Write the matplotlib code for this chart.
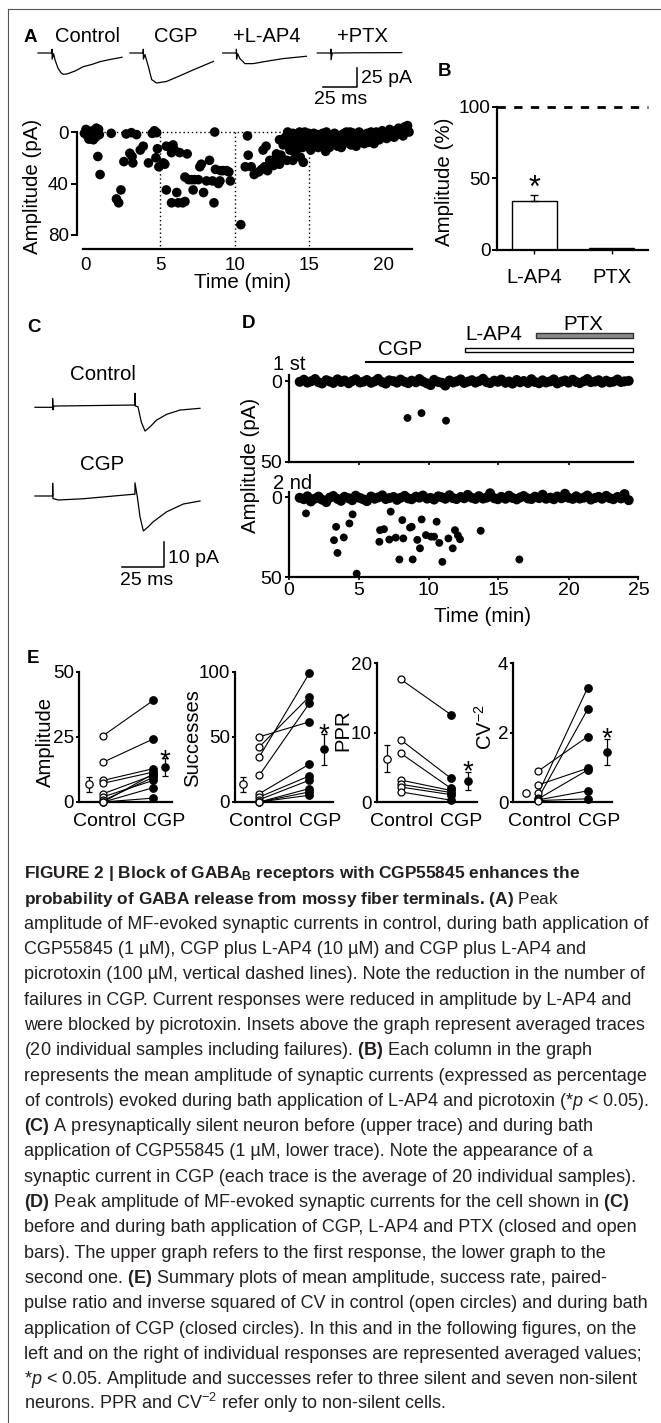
import matplotlib
matplotlib.use("Agg")
import matplotlib.pyplot as plt
from matplotlib.lines import Line2D
from matplotlib.patches import Rectangle

W, H = 661, 1423
INK = "black"
CAPTION_INK = "#231f20"
BOLD_SIZE = 12.4

plt.rcParams["font.family"] = ["Liberation Sans", "DejaVu Sans"]
plt.rcParams["mathtext.fontset"] = "custom"
plt.rcParams["mathtext.rm"] = "Liberation Sans"
plt.rcParams["mathtext.it"] = "Liberation Sans:italic"
plt.rcParams["mathtext.bf"] = "Liberation Sans:bold"

# ---------------- A: averaged traces (ms from trace start, pA from baseline)
a_trace_names = ["Control", "CGP", "+L-AP4", "+PTX"]
a_ctrl_ms = [0, 10.3, 10.3, 10.4, 11.5, 12.5, 14.7, 16.9, 18.4, 21.3, 27.2, 33.3, 39.7, 45.6, 53.0, 61.8]
a_ctrl_pa = [0, 0, 5, -8, -1, -9, -20, -26, -28, -27.6, -23.7, -18, -15, -11.4, -8.5, -5.6]
a_cgp_ms = [0, 9.8, 9.8, 9.9, 11.0, 13.5, 16.0, 19.6, 27.0, 36.8, 46.6, 61.3]
a_cgp_pa = [0, 0, 5, -8, -2, -17.5, -35, -39.5, -37.4, -29.9, -22.2, -11.1]
a_lap4_ms = [0, 10.1, 10.1, 10.2, 11.0, 12.7, 16.4, 22.3, 32.1, 44.3, 61.5]
a_lap4_pa = [0, 0, 5, -8, -1, -7.4, -14, -14, -10.9, -7.4, -4.3]
a_ptx_ms = [0, 10, 10, 10.1, 11, 30, 62]
a_ptx_pa = [0, 0, 5, -9, 0, 0.3, 0.5]
a_scale_ms, a_scale_pa = 25, 25

# ---------------- A: peak amplitude vs time (min, pA)
a_control_pts = [(-0.1, 1), (0.0, -2), (0.1, 3), (0.2, 5.5), (0.25, 0), (0.35, 5), (0.45, -1),
                 (0.5, 6), (0.55, 2), (0.65, 4), (0.7, -3), (0.75, 0), (0.85, -2), (0.9, 2),
                 (0.8, 19), (0.95, 33), (1.7, 1), (2.05, 52), (2.2, 55), (2.35, 45), (2.55, 23),
                 (2.7, 1.5), (2.95, 16.5), (3.05, 0.5), (3.1, 19), (3.15, 24), (3.4, 2),
                 (3.65, 14), (3.85, 11), (4.2, 24), (4.45, 1), (4.6, -1), (4.7, 20),
                 (4.75, 0.5), (4.8, 13), (4.9, 27)]
a_cgp_pts = [(5.2, 24), (5.3, 25), (5.4, 11), (5.4, 45), (5.75, 16), (5.75, 55), (5.85, 10),
             (5.95, 14), (6.1, 47), (6.2, 55), (6.3, 16), (6.5, 55), (6.65, 35), (6.65, 54),
             (6.8, 17), (6.9, 37), (7.1, 37), (7.2, 45), (7.3, 37), (7.55, 37), (7.65, 27),
             (7.75, 25), (7.9, 47), (8.1, 38), (8.3, 22), (8.5, 38), (8.6, 55), (8.65, 0),
             (8.7, 29), (8.9, 40), (9.0, 38), (9.05, 30), (9.2, 30), (9.45, 30), (9.6, 31),
             (9.7, 38)]
a_lap4_pts = [(10.4, 72), (10.7, 27), (10.85, 3), (10.9, 18), (11.1, 27), (11.3, 33), (11.6, 31),
              (11.8, 29), (11.9, 14), (12.0, 27), (12.1, 11), (12.2, 30), (12.35, 22), (12.6, 26),
              (12.7, 21), (12.8, 17), (13.0, 25), (13.0, 6), (13.1, 18), (13.25, 10), (13.4, 4),
              (13.5, 22), (13.5, 9), (13.55, 0), (13.6, 2), (13.7, 14), (13.7, 12), (13.75, 3),
              (13.8, 6), (13.9, 22), (13.9, 1), (13.95, 15), (14.0, 10), (14.1, 17), (14.1, 4),
              (14.15, 8), (14.2, 13), (14.3, 7), (14.35, 0), (14.4, 19.6), (14.4, 2), (14.5, 9),
              (14.55, 12), (14.6, 23.5), (14.6, 5), (14.7, 0), (14.75, 6), (14.8, 11),
              (14.9, 3), (14.95, 1)]
a_ptx_pts = [(15.0, 8), (15.1, 14), (15.15, 7), (15.2, 4), (15.3, 1), (15.35, 11), (15.4, 9),
             (15.5, 6), (15.55, 2), (15.6, 12), (15.7, 3), (15.75, 10), (15.8, 8), (15.9, 1),
             (15.95, 6), (16.0, 5), (16.1, 15), (16.15, 0), (16.2, 7), (16.3, 2), (16.35, 12),
             (16.4, 10), (16.5, 4), (16.55, 3), (16.6, 8), (16.7, 1), (16.75, 9), (16.8, 6),
             (16.9, 11), (16.95, 4), (17.0, 3), (17.1, 7), (17.15, 12), (17.2, 2), (17.3, 9),
             (17.35, 1), (17.4, 5), (17.5, 0), (17.55, 8), (17.6, 7), (17.7, 3), (17.75, 0),
             (17.8, 10), (17.9, 5), (17.95, 3), (18.0, 1), (18.1, 6), (18.15, 11), (18.2, 8),
             (18.3, 3), (18.35, 0), (18.4, 7), (18.5, 2), (18.55, 6), (18.6, 5), (18.7, 9),
             (18.75, 2), (18.8, 4), (18.9, 1), (18.95, 8), (19.0, 6), (19.1, 3), (19.15, 0),
             (19.2, 7), (19.3, 2), (19.35, 9), (19.4, 5), (19.5, 0), (19.6, 4), (19.7, 6),
             (19.8, 2), (19.9, -1), (20.0, 4), (20.1, 1), (20.2, 5), (20.3, 2), (20.4, -2),
             (20.5, 3), (20.6, 0), (20.7, 4), (20.8, -1), (20.9, 2), (21.0, -3), (21.1, 1),
             (21.2, -2), (21.3, 3), (21.4, -4), (21.5, -1), (21.6, -5), (21.7, 0)]
a_drug_lines = [5, 10, 15]

# ---------------- B: normalised amplitude (% of control)
b_labels = ["L-AP4", "PTX"]
b_values = [34.4, 1.2]
b_err = [4.0, 0.0]
b_star = 49

# ---------------- C: traces of a silent neuron (ms, pA)
c_names = ["Control", "CGP"]
c_ctrl_ms = [0, 10.5, 10.5, 10.7, 11.3, 58.5, 59.5, 59.5, 59.8, 61.3, 63.3, 65.5, 68.5, 72.4, 78.4, 86.3, 98.2]
c_ctrl_pa = [0, 0, 3.5, -1, 0.5, 0.9, 0.9, 5.6, 0.5, 0.2, -6, -9.5, -7.8, -5.1, -2.8, -1.1, -0.4]
c_cgp_ms = [0, 10.5, 10.5, 10.7, 13.9, 28.8, 58.5, 59.5, 59.5, 60.9, 62.5, 64.5, 67.4, 70.4, 78.4, 88.3, 98.2]
c_cgp_pa = [0, 0, 5.1, -1.0, -1.6, -1.1, 0.7, 0.7, 5.3, -0.3, -8.3, -14, -12.3, -10.3, -6.3, -3.2, -2.0]
c_scale_ms, c_scale_pa = 25, 10

# ---------------- D: first and second response amplitude vs time (min, pA)
d_drugs = ["CGP", "L-AP4", "PTX"]
d_drug_start = [5.55, 12.6, 17.7]
d_drug_end = [24.6, 24.6, 24.6]
d_sweep_t = [0.8, 1.1, 1.35, 1.6, 1.9, 2.15, 2.4, 2.7, 2.95, 3.2,
             3.5, 3.75, 4.0, 4.3, 4.55, 4.8, 5.1, 5.35, 5.6, 5.9,
             6.15, 6.4, 6.7, 6.95, 7.2, 7.5, 7.75, 8.0, 8.3, 8.55,
             8.8, 9.1, 9.35, 9.6, 9.9, 10.15, 10.4, 10.7, 10.95, 11.2,
             11.5, 11.75, 12.0, 12.3, 12.55, 12.8, 13.1, 13.35, 13.6, 13.9,
             14.15, 14.4, 14.7, 14.95, 15.2, 15.5, 15.75, 16.0, 16.3, 16.55,
             16.8, 17.1, 17.35, 17.6, 17.9, 18.15, 18.4, 18.7, 18.95, 19.2,
             19.5, 19.75, 20.0, 20.3, 20.55, 20.8, 21.1, 21.35, 21.6, 21.9,
             22.15, 22.4, 22.7, 22.95, 23.2, 23.5, 23.75, 24.0, 24.3]
d1_fail_amp = [0.5, -0.8, 1.0, 0.2, -1.2, 0.8, 1.5, -0.5, 0.3, 1.2,
               -1.0, 0.6, -0.3, 1.4, 0.0, -1.1, 0.9, 0.4, -0.6, 1.1,
               0.2, -1.3, 0.7, 1.6, -0.4, 0.1, 1.0, -0.9, 0.5, 1.3,
               -0.2, 0.8, -1.2, 0.3, 1.5, 2.5, -0.7, 0.6, 1.1, 2.8,
               -0.3, 0.9, 0.2, -1.0, 1.2, 0.4, -0.5, 1.0, 0.1, -1.4,
               0.7, 1.3, -0.2, 0.5, -0.9, 1.1, 0.3, 1.6, -0.6, 0.8,
               0.0, 1.2, -1.1, 0.6, 1.4, -0.4, 0.9, 0.2, -1.0, 1.5,
               0.4, -0.3, 1.0, -0.8, 0.6, 1.3, 0.1, -1.2, 0.7, 0.3,
               -0.5, 1.1, -0.2, 0.8, 0.4, -0.9, 0.6, 0.2, -0.1]
d1_resp_t = [8.5, 9.5, 11.25]
d1_resp_amp = [22.8, 19.8, 24.5]
d2_fail_amp = [0.3, 1.2, -0.6, 2.6, 0.8, -0.4, 1.5, 3.0, 0.2, -0.8,
               1.0, 2.2, -0.3, 0.6, 1.8, -1.0, 0.4, 1.3, 2.4, -0.5,
               0.9, 0.1, -1.2, 1.1, 0.5, -0.2, 1.6, 0.3, -0.9, 0.7,
               1.2, -0.4, 0.2, -1.1, 0.8, 0.4, 1.4, -0.6, 0.0, 0.9,
               -1.3, 0.5, 1.1, -0.2, 0.6, -1.5, 0.3, 1.0, -0.7, 0.8,
               0.2, -2.5, 0.6, 1.2, -0.3, 0.9, -1.0, 0.4, 1.3, 0.1,
               -0.8, 0.7, 1.1, -0.4, 0.5, -1.6, 0.9, 0.2, 1.2, -0.5,
               0.6, -2.2, 0.3, 1.0, -0.6, 0.8, 0.2, -1.1, 1.4, 0.4,
               -0.3, 0.9, -0.9, 0.5, 1.2, -0.2, 0.7, -2.0, 1.8]
d2_resp_t = [1.25, 3.25, 3.4, 3.5, 3.95, 4.35, 4.58, 4.87, 6.49, 6.54,
             6.82, 7.2, 7.3, 7.66, 7.92, 8.13, 8.2, 8.68, 8.8, 8.87,
             9.2, 9.39, 9.51, 9.82, 10.18, 10.4, 10.58, 10.77, 10.99, 11.42,
             11.73, 11.89, 12.1, 12.25, 13.73, 16.49]
d2_resp_amp = [10.1, 26.9, 18.5, 34.9, 25.2, 16.4, 10.7, 47.9, 27.9, 20.6,
               20.0, 26.5, 9.0, 25.3, 39.0, 14.3, 25.8, 19.0, 18.5, 39.0,
               26.7, 32.0, 13.9, 23.7, 24.7, 24.7, 15.3, 28.6, 40.5, 25.8,
               32.0, 20.6, 23.9, 26.3, 21.0, 39.0]

# ---------------- E: summary plots (control, CGP)
e_groups = ["Control", "CGP"]
e_amp_ctrl = [25.5, 15.3, 8.3, 7.2, 3.2, 2.0, 0.6, 0.0, 0.0, 0.0]
e_amp_cgp = [39.0, 24.2, 12.8, 11.5, 10.3, 8.3, 9.5, 5.5, 1.5, 10.8]
e_amp_mean, e_amp_sem = [6.8, 13.5], [2.9, 3.5]
e_succ_ctrl = [50.0, 42.3, 34.6, 20.5, 6.4, 3.8, 1.8, 0.0, 0.0, 0.0]
e_succ_cgp = [61.5, 80.8, 98.8, 75.7, 29.0, 20.0, 16.7, 10.3, 7.7, 5.2]
e_succ_mean, e_succ_sem = [13.6, 40.5], [5.7, 11.8]
e_ppr_ctrl = [17.7, 9.0, 7.05, 3.2, 2.6, 2.2, 1.5]
e_ppr_cgp = [12.6, 3.45, 2.0, 1.7, 1.4, 1.1, 0.3]
e_ppr_mean, e_ppr_sem = [6.3, 3.06], [2.0, 1.35]
e_cv_ctrl = [0.9, 0.5, 0.26, 0.12, 0.1, 0.07, 0.05]
e_cv_cgp = [1.89, 0.98, 3.3, 2.68, 0.93, 0.33, 0.1]
e_cv_mean, e_cv_sem = [0.26, 1.44], [0.0, 0.38]

caption_lines = [
    ("FIGURE 2 | Block of GABA$_\\mathbf{B}$ receptors with CGP55845 enhances the", "bold"),
    ("probability of GABA release from mossy fiber terminals. (A) $\\mathrm{Peak}$", "bold"),
    ("amplitude of MF-evoked synaptic currents in control, during bath application of", "normal"),
    ("CGP55845 (1 \u00b5M), CGP plus L-AP4 (10 \u00b5M) and CGP plus L-AP4 and", "normal"),
    ("picrotoxin (100 \u00b5M, vertical dashed lines). Note the reduction in the number of", "normal"),
    ("failures in CGP. Current responses were reduced in amplitude by L-AP4 and", "normal"),
    ("were blocked by picrotoxin. Insets above the graph represent averaged traces", "normal"),
    ("(20 individual samples including failures). $\\mathbf{(B)}$ Each column in the graph", "normal"),
    ("represents the mean amplitude of synaptic currents (expressed as percentage", "normal"),
    ("of controls) evoked during bath application of L-AP4 and picrotoxin (*$\\mathit{p}$ < 0.05).", "normal"),
    ("$\\mathbf{(C)}$ A presynaptically silent neuron before (upper trace) and during bath", "normal"),
    ("application of CGP55845 (1 \u00b5M, lower trace). Note the appearance of a", "normal"),
    ("synaptic current in CGP (each trace is the average of 20 individual samples).", "normal"),
    ("$\\mathbf{(D)}$ Peak amplitude of MF-evoked synaptic currents for the cell shown in $\\mathbf{(C)}$", "normal"),
    ("before and during bath application of CGP, L-AP4 and PTX (closed and open", "normal"),
    ("bars). The upper graph refers to the first response, the lower graph to the", "normal"),
    ("second one. $\\mathbf{(E)}$ Summary plots of mean amplitude, success rate, paired-", "normal"),
    ("pulse ratio and inverse squared of CV in control (open circles) and during bath", "normal"),
    ("application of CGP (closed circles). In this and in the following figures, on the", "normal"),
    ("left and on the right of individual responses are represented averaged values;", "normal"),
    ("*$\\mathit{p}$ < 0.05. Amplitude and successes refer to three silent and seven non-silent", "normal"),
    ("neurons. PPR and CV$^{-2}$ refer only to non-silent cells.", "normal"),
]


def axes_px(fig, x0, y0, x1, y1):
    """Add axes from a pixel box measured from the top-left corner."""
    return fig.add_axes([x0 / W, 1 - y1 / H, (x1 - x0) / W, (y1 - y0) / H])


def text_px(fig, x, y, s, **kw):
    kw.setdefault("ha", "center")
    kw.setdefault("va", "baseline")
    kw.setdefault("color", INK)
    return fig.text(x / W, 1 - y / H, s, **kw)


def open_axes(ax, lw=1.6):
    for side in ("top", "right"):
        ax.spines[side].set_visible(False)
    for side in ("left", "bottom"):
        ax.spines[side].set_linewidth(lw)
    ax.set_facecolor("none")


def star(ax, x, y, size=20):
    ax.annotate("*", (x, y), xytext=(0, -0.57 * size), textcoords="offset points",
                ha="center", va="baseline", fontsize=size, color=INK, annotation_clip=False)


def trace_axes(fig, box, origin, ms_px, pa_px):
    """Axes in ms / pA whose (0, 0) sits on the pixel point `origin`."""
    ax = axes_px(fig, *box)
    x0, y0, x1, y1 = box
    ax.set_xlim((x0 - origin[0]) / ms_px, (x1 - origin[0]) / ms_px)
    ax.set_ylim((origin[1] - y1) / pa_px, (origin[1] - y0) / pa_px)
    ax.axis("off")
    return ax


def panel_a(fig):
    text_px(fig, 24, 42, "A", fontsize=13.5, fontweight="bold", ha="left")
    ax = trace_axes(fig, (30, 40, 410, 100), (38, 53), 1.36, 0.76)
    traces = [(a_ctrl_ms, a_ctrl_pa), (a_cgp_ms, a_cgp_pa),
              (a_lap4_ms, a_lap4_pa), (a_ptx_ms, a_ptx_pa)]
    starts = [0, 67.6, 135.8, 205.4]
    for (ms, pa), t0 in zip(traces, starts):
        ax.plot([t0 + m for m in ms], pa, color=INK, lw=0.9, clip_on=False)
    for name, cx in zip(a_trace_names, [87, 176, 267, 362]):
        text_px(fig, cx, 42, name, fontsize=14.5)
    sx, sy = 209.6, -44.7
    ax.plot([sx, sx + a_scale_ms, sx + a_scale_ms], [sy, sy, sy + a_scale_pa],
            color=INK, lw=1.1, clip_on=False)
    text_px(fig, 361, 83, f"{a_scale_pa} pA", fontsize=14, ha="left")
    text_px(fig, 341, 104, f"{a_scale_ms} ms", fontsize=14)

    ax = axes_px(fig, 77, 122, 412, 249)
    open_axes(ax)
    ax.set_xlim(-0.6, 21.9)
    ax.set_ylim(90.9, -7.8)
    ax.spines["left"].set_bounds(0, 80)
    ax.spines["bottom"].set_bounds(-0.2, 21.9)
    ax.plot([-0.2, 21.8], [0, 0], color=INK, lw=1, ls=(0, (1, 2)), zorder=1)
    for t in a_drug_lines:
        ax.plot([t, t], [0, 90.9], color=INK, lw=1, ls=(0, (1, 2)), zorder=1, clip_on=False)
    pts = a_control_pts + a_cgp_pts + a_lap4_pts + a_ptx_pts
    ax.scatter([p[0] for p in pts], [p[1] for p in pts], s=48, color=INK,
               edgecolors="none", zorder=3, clip_on=False)
    ax.set_yticks([0, 40, 80])
    ax.set_xticks([0, 5, 10, 15, 20])
    ax.tick_params(axis="y", length=4, width=1.4, pad=2, labelsize=13.5)
    ax.tick_params(axis="x", length=0, pad=6, labelsize=13.5)
    text_px(fig, 33, 186, "Amplitude (pA)", fontsize=14.8, rotation=90, va="center")
    text_px(fig, 242, 288, "Time (min)", fontsize=14.8)


def panel_b(fig):
    text_px(fig, 438, 76, "B", fontsize=13.5, fontweight="bold", ha="left")
    ax = axes_px(fig, 497, 95, 648, 250)
    open_axes(ax)
    ax.set_xlim(-0.48, 1.47)
    ax.set_ylim(0, 108.2)
    ax.spines["left"].set_bounds(0, 100)
    xs = range(len(b_values))
    ax.bar(xs, b_values, width=0.58, color="white", edgecolor=INK, linewidth=1.0, zorder=2)
    ax.errorbar([0], [b_values[0]], yerr=[[0], [b_err[0]]], fmt="none",
                ecolor=INK, elinewidth=1.0, capsize=3, capthick=1.0, zorder=3)
    ax.plot([-0.48, 1.47], [100, 100], color=INK, lw=2, ls=(0, (3, 3)), clip_on=False)
    star(ax, 0, b_star, size=22)
    ax.set_yticks([0, 50, 100])
    ax.set_xticks(list(xs), b_labels)
    ax.tick_params(axis="y", length=3.5, width=1.4, pad=1, labelsize=13.7)
    ax.tick_params(axis="x", length=3, width=1.0, pad=10, labelsize=14.5)
    text_px(fig, 445, 182, "Amplitude (%)", fontsize=14.8, rotation=90, va="center")


def panel_c(fig):
    text_px(fig, 27, 332, "C", fontsize=13.5, fontweight="bold", ha="left")
    ax = trace_axes(fig, (25, 380, 215, 590), (35, 407.3), 1.68, 2.5)
    offset = -(496 - 407.3) / 2.5
    ax.plot(c_ctrl_ms, c_ctrl_pa, color=INK, lw=0.9, clip_on=False)
    ax.plot(c_cgp_ms, [p + offset for p in c_cgp_pa], color=INK, lw=0.9, clip_on=False)
    text_px(fig, 103, 380, c_names[0], fontsize=14.8)
    text_px(fig, 102, 470, c_names[1], fontsize=14.8)
    sx, sy = 51.8, -63.9
    ax.plot([sx, sx + c_scale_ms, sx + c_scale_ms], [sy, sy, sy + c_scale_pa],
            color=INK, lw=1.1, clip_on=False)
    text_px(fig, 168, 563, f"{c_scale_pa} pA", fontsize=14, ha="left")
    text_px(fig, 147, 585, f"{c_scale_ms} ms", fontsize=14)


def panel_d(fig):
    text_px(fig, 242, 328, "D", fontsize=13.5, fontweight="bold", ha="left")
    bars = axes_px(fig, 288.5, 315, 638.5, 370)
    bars.set_xlim(0, 25)
    bars.set_ylim(370, 315)
    bars.axis("off")
    bars.plot([d_drug_start[0], d_drug_end[0]], [362.3, 362.3], color=INK, lw=1.5)
    bars.add_patch(Rectangle((d_drug_start[1], 347.7), d_drug_end[1] - d_drug_start[1], 4.6,
                             facecolor="white", edgecolor=INK, lw=1.0))
    bars.add_patch(Rectangle((d_drug_start[2], 333), d_drug_end[2] - d_drug_start[2], 5,
                             facecolor="#8c8c8c", edgecolor="#333333", lw=1.0))
    for name, cx, by in zip(d_drugs, [400, 494, 583], [355, 340, 330]):
        text_px(fig, cx, by, name, fontsize=14.8)

    rows = [((288.5, 372, 638.5, 462), (50, -5.56), d1_fail_amp, d1_resp_t, d1_resp_amp, 24.6, "1 st", 370),
            ((288.5, 488, 638.5, 577), (50, -5.83), d2_fail_amp, d2_resp_t, d2_resp_amp, 25, "2 nd", 489)]
    for box, ylim, fail, rt, ra, xend, tag, tag_y in rows:
        ax = axes_px(fig, *box)
        open_axes(ax)
        ax.set_xlim(0, 25)
        ax.set_ylim(*ylim)
        ax.spines["left"].set_bounds(-3.5, 50)
        ax.spines["bottom"].set_bounds(0, xend)
        ax.scatter(d_sweep_t, fail, s=52, color=INK, edgecolors="none", clip_on=False, zorder=3)
        ax.scatter(rt, ra, s=32, color=INK, edgecolors="none", clip_on=False, zorder=3)
        ax.set_yticks([0, 50])
        ax.tick_params(axis="y", length=3, width=1.4, pad=1.5, labelsize=14)
        ax.tick_params(axis="x", length=2.5, width=1.2, pad=1, labelsize=14)
        text_px(fig, 273, tag_y, tag, fontsize=14.5, ha="left")
        if tag == "1 st":
            ax.set_xticks([5, 10, 15, 20], [])
        else:
            ax.set_xticks([0, 5, 10, 15, 20, 25])
    text_px(fig, 250, 465, "Amplitude (pA)", fontsize=14.8, rotation=90, va="center")
    text_px(fig, 482, 621.7, "Time (min)", fontsize=14.8)


def panel_e(fig):
    text_px(fig, 27, 663, "E", fontsize=13.5, fontweight="bold", ha="left")
    panels = [
        dict(box=(79, 671.7, 172, 802), xlim=(0.514, 2.374), mx=(0.72, 2.234), ylim=50,
             ticks=[0, 25, 50], ctrl=e_amp_ctrl, cgp=e_amp_cgp, mean=e_amp_mean,
             sem=e_amp_sem, star=19.2, label="Amplitude", lxy=(45, 742), cx=103.3),
        dict(box=(235, 671.7, 333, 802), xlim=(0.514, 2.474), mx=(0.68, 2.294), ylim=100,
             ticks=[0, 50, 100], ctrl=e_succ_ctrl, cgp=e_succ_cgp, mean=e_succ_mean,
             sem=e_succ_sem, star=57.7, label="Successes", lxy=(193, 738), cx=259.3),
        dict(box=(376.7, 663.3, 476.7, 802.3), xlim=(0.523, 2.511), mx=(0.733, 2.34), ylim=20,
             ticks=[0, 10, 20], ctrl=e_ppr_ctrl, cgp=e_ppr_cgp, mean=e_ppr_mean,
             sem=e_ppr_sem, star=5.6, label="PPR", lxy=(343, 730), cx=400.7),
        dict(box=(513.3, 663.3, 611.7, 802.3), xlim=(0.494, 2.486), mx=(0.745, 2.385), ylim=4,
             ticks=[0, 2, 4], ctrl=e_cv_ctrl, cgp=e_cv_cgp, mean=e_cv_mean,
             sem=e_cv_sem, star=2.08, label="CV$^{-2}$", lxy=(485, 727), cx=538.3),
    ]
    for p in panels:
        ax = axes_px(fig, *p["box"])
        open_axes(ax)
        ax.set_xlim(*p["xlim"])
        ax.set_ylim(0, p["ylim"])
        for c, g in zip(p["ctrl"], p["cgp"]):
            ax.plot([1, 2], [c, g], color=INK, lw=0.8, zorder=2)
        ax.plot([1] * len(p["ctrl"]), p["ctrl"], ls="none", marker="o", ms=5,
                mfc="white", mec=INK, mew=0.9, zorder=3, clip_on=False)
        ax.plot([2] * len(p["cgp"]), p["cgp"], ls="none", marker="o", ms=5.3,
                mfc=INK, mec=INK, zorder=3, clip_on=False)
        for x, m, s, face in zip(p["mx"], p["mean"], p["sem"], ["white", INK]):
            if s > 0:
                ax.errorbar([x], [m], yerr=[s], fmt="none", ecolor=INK, elinewidth=0.9,
                            capsize=2, capthick=0.9, zorder=2)
            ax.plot([x], [m], ls="none", marker="o", ms=5.3, mfc=face, mec=INK,
                    mew=0.9, zorder=3, clip_on=False)
        star(ax, p["mx"][1], p["star"], size=20)
        ax.set_yticks(p["ticks"])
        ax.set_xticks([1, 2], [])
        ax.tick_params(axis="y", length=2.5, width=1.4, pad=1, labelsize=13.6)
        ax.tick_params(axis="x", length=0)
        text_px(fig, p["cx"] + 1, 826, e_groups[0], fontsize=14)
        text_px(fig, p["cx"] + 39.5, 826, e_groups[1], fontsize=14, ha="left")
        text_px(fig, p["lxy"][0], p["lxy"][1], p["label"], fontsize=14.6,
                rotation=90, va="center")


def caption(fig):
    for i, (line, weight) in enumerate(caption_lines):
        size = BOLD_SIZE if weight == "bold" else 13
        text_px(fig, 24.5, 878.3 + i * 25.29, line, ha="left", color=CAPTION_INK,
                fontsize=size, fontweight=weight)


def main():
    fig = plt.figure(figsize=(W / 100, H / 100), dpi=100, facecolor="white")
    fig.add_artist(Line2D([8 / W, 8 / W], [0, 1 - 9 / H], color="#555555", lw=0.8))
    fig.add_artist(Line2D([8 / W, 1], [1 - 9 / H, 1 - 9 / H], color="#555555", lw=0.8))
    panel_a(fig)
    panel_b(fig)
    panel_c(fig)
    panel_d(fig)
    panel_e(fig)
    caption(fig)
    fig.savefig("out.png", dpi=100, facecolor="white")


if __name__ == "__main__":
    main()
